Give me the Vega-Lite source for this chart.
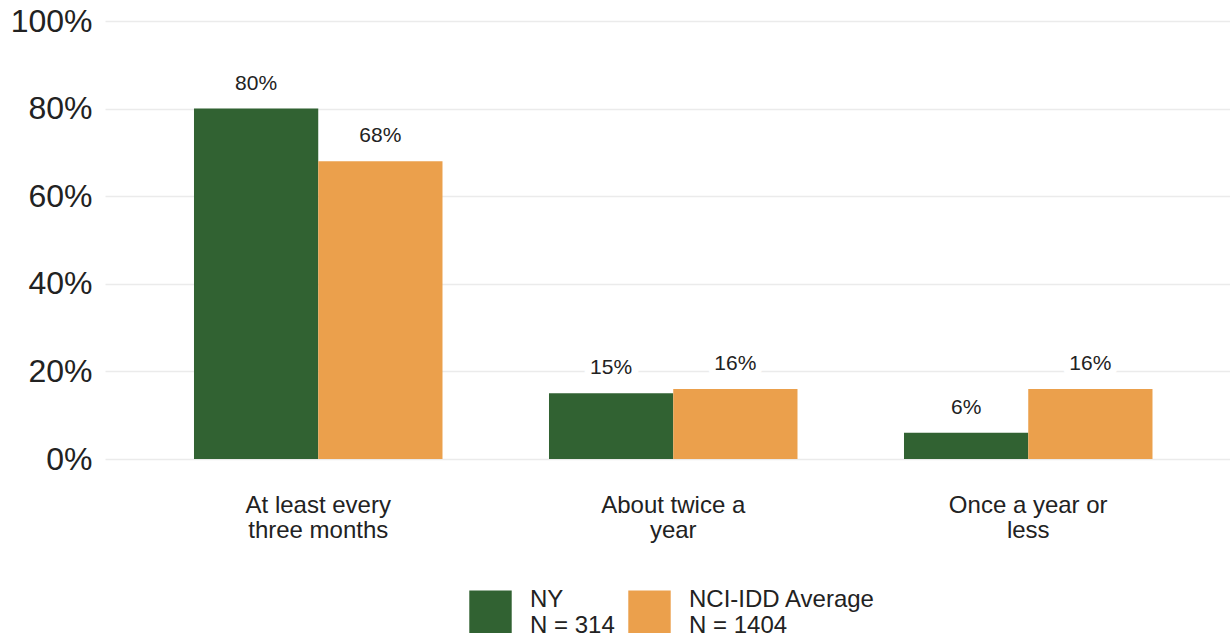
{
  "$schema": "https://vega.github.io/schema/vega-lite/v6.json",
  "width": 1125,
  "height": 438,
  "autosize": {"type": "none"},
  "padding": {"left": 105, "top": 21, "right": 0, "bottom": 180},
  "config": {"view": {"stroke": null}, "font": "Liberation Sans"},
  "data": {
    "values": [
      {"cat": "At least every|three months", "grp": "NY|N = 314", "v": 0.80},
      {"cat": "At least every|three months", "grp": "NCI-IDD Average|N = 1404", "v": 0.68},
      {"cat": "About twice a|year", "grp": "NY|N = 314", "v": 0.15},
      {"cat": "About twice a|year", "grp": "NCI-IDD Average|N = 1404", "v": 0.16},
      {"cat": "Once a year or|less", "grp": "NY|N = 314", "v": 0.06},
      {"cat": "Once a year or|less", "grp": "NCI-IDD Average|N = 1404", "v": 0.16}
    ]
  },
  "encoding": {
    "x": {
      "field": "cat", "type": "nominal", "sort": null,
      "scale": {"paddingInner": 0.3, "paddingOuter": 0.2345, "align": 0.5345},
      "axis": {
        "title": null, "labelAngle": 0, "domain": false, "ticks": false, "grid": false,
        "labelFontSize": 24, "labelColor": "#222222", "labelPadding": 34, "labelLineHeight": 25,
        "labelExpr": "split(datum.label, '|')", "labelLimit": 400
      }
    },
    "xOffset": {"field": "grp", "type": "nominal", "sort": null},
    "y": {
      "field": "v", "type": "quantitative",
      "scale": {"domain": [0, 1]},
      "axis": {
        "title": null, "format": ".0%", "values": [0, 0.2, 0.4, 0.6, 0.8, 1],
        "grid": true, "gridColor": "#EBEBEB", "gridWidth": 1.5,
        "domain": false, "ticks": false, "labelFontSize": 32, "labelColor": "#222222", "labelPadding": 13
      }
    }
  },
  "layer": [
    {
      "mark": {"type": "bar"},
      "encoding": {
        "color": {
          "field": "grp", "type": "nominal", "sort": null,
          "scale": {"domain": ["NY|N = 314", "NCI-IDD Average|N = 1404"], "range": ["#316232", "#EBA04C"]},
          "legend": {
            "orient": "none", "legendX": 364, "legendY": 569, "direction": "horizontal", "title": null,
            "symbolType": "square", "symbolSize": 1800, "symbolStrokeWidth": 0, "symbolOpacity": 1,
            "labelFontSize": 24, "labelLineHeight": 24, "labelColor": "#222222", "labelBaseline": "bottom",
            "labelExpr": "split(datum.label, '|')", "labelOffset": 18, "columnPadding": 13,
            "labelLimit": 400
          }
        }
      }
    },
    {
      "mark": {"type": "text", "baseline": "alphabetic", "dy": -19, "fontSize": 21, "stroke": "white", "strokeWidth": 14, "strokeJoin": "round", "color": "white"},
      "encoding": {"text": {"field": "v", "type": "quantitative", "format": ".0%"}}
    },
    {
      "mark": {"type": "text", "baseline": "alphabetic", "dy": -19, "fontSize": 21, "color": "#222222"},
      "encoding": {"text": {"field": "v", "type": "quantitative", "format": ".0%"}}
    }
  ]
}
